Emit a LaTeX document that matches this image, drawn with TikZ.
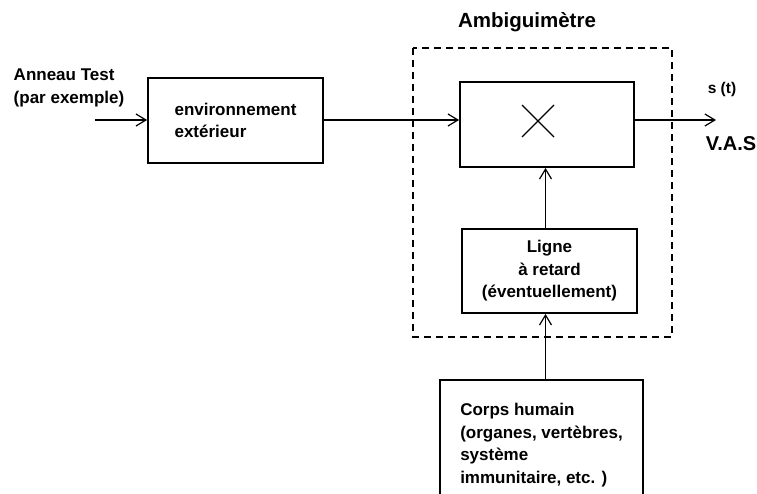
\documentclass[tikz,border=0pt]{standalone}
\usepackage{fontspec}
\setmainfont{Liberation Sans}
\usetikzlibrary{arrows.meta}

\begin{document}
\begin{tikzpicture}[x=1pt, y=-1pt, thick,
        main/.style = {draw, line width=1.8pt, inner sep=0pt},
        txt/.style = {font=\bfseries\fontsize{17}{22.5}\selectfont},
        link/.style = {-{Straight Barb[length=10pt,width=12pt]}, line width=1.2pt}]
    \useasboundingbox (0,0) rectangle (757,493);
    \clip (0,0) rectangle (757,493);

        \node[main, txt, align=left, minimum width=175pt, minimum height=85pt] (env) at (235.5,120.5) {environnement\\extérieur};
        \node[main, minimum width=174pt, minimum height=85pt] (mult) at (547,124.5) {};
        \node[main, txt, align=center, minimum width=175pt, minimum height=84pt] (delay) at (549.5,271) {Ligne\\à retard\\(éventuellement)};
        \node[main, txt, line width=2.6pt, align=left, minimum width=203pt, minimum height=130pt] (corps) at (541.5,445) {Corps humain\\(organes, vertèbres,\\système\\immunitaire, etc. )};

        \coordinate (in) at (95,120);
        \coordinate (out) at (716,120);
        \coordinate (vert) at (545.5,0);

        \node[txt, align=left, anchor=west] (test) at (10,88) {Anneau Test\\(par exemple)};
        \node[font=\bfseries\fontsize{20.5}{24}\selectfont] (ambi) at (527,22) {Ambiguimètre};
        \node[font=\bfseries\fontsize{15.5}{18}\selectfont] (sig) at (722,89) {s (t)};
        \node[font=\bfseries\fontsize{20}{24}\selectfont] (vas) at (731,144) {V.A.S};

        % boite de l'ambiguimetre
        \draw[line width=1.3pt, dash pattern=on 7pt off 5pt] (413,48) rectangle (672,337);

        % multiplication
        \draw[line width=1.3pt] (522,105) -- (554,137);
        \draw[line width=1.3pt] (522,137) -- (554,105);

        \path[link] (in) edge (in -| env.west);
        \path[link] (in -| env.east) edge (in -| mult.west);
        \path[link] (in -| mult.east) edge (out);
        \path[link] (vert |- delay.north) edge (vert |- mult.south);
        \path[link] (vert |- corps.north) edge (vert |- delay.south);

    \end{tikzpicture}
\end{document}
